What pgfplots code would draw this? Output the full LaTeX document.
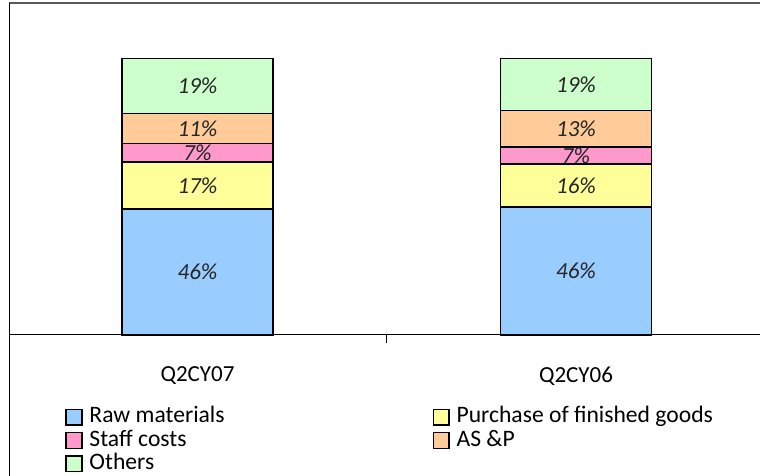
\documentclass[border=0pt]{standalone}
\usepackage{fontspec}
\setmainfont{Carlito}
\usepackage{pgfplots}
\pgfplotsset{compat=1.18}
\definecolor{cRaw}{HTML}{99CCFF}
\definecolor{cPur}{HTML}{FFFF99}
\definecolor{cStaff}{HTML}{FF99CC}
\definecolor{cASP}{HTML}{FFCC99}
\definecolor{cOth}{HTML}{CCFFCC}
\begin{document}
\begin{tikzpicture}
\path[use as bounding box] (0,0) rectangle (380pt,238pt);
\begin{axis}[
  at={(4.5pt,70.5pt)}, anchor=south west,
  scale only axis, width=375.5pt, height=166pt,
  ybar stacked, bar width=75.5pt,
  xmin=-0.498, xmax=1.486, ymin=0, ymax=120,
  axis x line*=bottom, axis y line=none,
  axis line style={line width=0.5pt, black},
  ytick=\empty,
  xtick={0,1}, xticklabels={Q2CY07,Q2CY06},
  major tick length=0pt,
  extra x ticks={0.5}, extra x tick labels={},
  extra x tick style={major tick length=4pt, tick align=outside, tick style={black, line width=0.5pt}},
  xticklabel style={font=\fontsize{11.5}{13}\selectfont, anchor=center, yshift=-20.5pt},
  point meta=explicit symbolic,
  nodes near coords={\pgfplotspointmeta\%},
  every node near coord/.append style={font=\fontsize{11.5}{13}\itshape, text=black!85},
  legend columns=2,
  legend cell align=left,
  legend style={draw=none, fill=none, inner sep=0pt, column sep=0pt,
    at={(axis description cs:0,0)}, anchor=north west, xshift=28pt, yshift=-35pt,
    nodes={inner sep=0.5pt, text height=8.1pt, text depth=2.6pt, font=\fontsize{11.8}{13}\selectfont}},
  legend image code/.code={\draw[#1, draw=black, line width=0.75pt] (0pt,-3.9pt) rectangle (7.85pt,3.9pt); \path (10.8pt,0pt);},
  clip=false,
  every axis plot/.append style={draw=black, line width=0.75pt},
]
\addplot[fill=cRaw] coordinates {(0,45.5) [46] (1,46.2) [46]};
\addlegendentry{\makebox[171pt][l]{Raw materials}}
\addplot[fill=cPur] coordinates {(0,17.1) [17] (1,15.6) [16]};
\addlegendentry{Purchase of finished goods}
\addplot[fill=cStaff] coordinates {(0,6.7) [7] (1,6.1) [7]};
\addlegendentry{\makebox[171pt][l]{Staff costs}}
\addplot[fill=cASP] coordinates {(0,10.8) [11] (1,13.2) [13]};
\addlegendentry{AS \&P}
\addplot[fill=cOth] coordinates {(0,19.9) [19] (1,18.9) [19]};
\addlegendentry{\makebox[171pt][l]{Others}}
\draw[gray!70!black, line width=0.6pt] (rel axis cs:0,1) -- (rel axis cs:1,1);
\end{axis}
\draw[black, line width=0.5pt] (4.5pt,0pt) -- (4.5pt,236.5pt);
\end{tikzpicture}
\end{document}
